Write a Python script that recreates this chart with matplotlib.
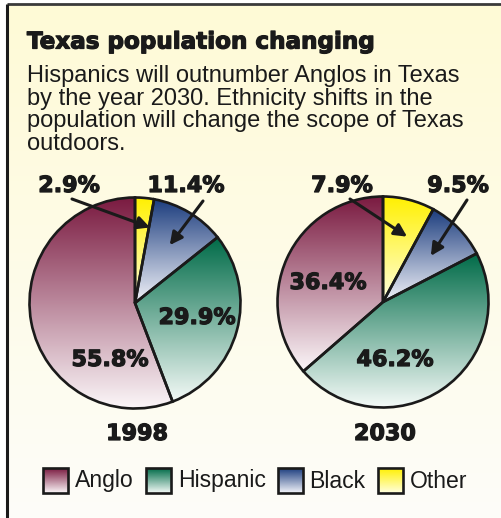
import numpy as np
import matplotlib
matplotlib.use("Agg")
import matplotlib.pyplot as plt
import matplotlib.patheffects as pe
from matplotlib.colors import to_rgba
from matplotlib.patches import Rectangle

# population shares, legend order
groups = ["Anglo", "Hispanic", "Black", "Other"]
years = ["1998", "2030"]
share_1998 = [55.8, 29.9, 11.4, 2.9]
share_2030 = [36.4, 46.2, 9.5, 7.9]

top_colors = ["#7a1a40", "#006b48", "#1c3d7e", "#fff000"]
bottom_colors = ["#fbf6f8", "#f4faf7", "#f3f4fa", "#ffffe0"]

title = "Texas population changing"
blurb = ("Hispanics will outnumber Anglos in Texas\n"
         "by the year 2030. Ethnicity shifts in the\n"
         "population will change the scope of Texas\n"
         "outdoors.")

W, H = 501, 518
INK = "#1a1a1a"
HEAVY = [pe.withStroke(linewidth=0.9, foreground=INK)]


def Y(y):
    # page coordinates measured from the top
    return H - y


def gradient(top, bottom, n=256):
    t = np.linspace(0, 1, n)[:, None]
    a = np.array(to_rgba(bottom))
    b = np.array(to_rgba(top))
    return (a + (b - a) * t)[:, None, :]


def fill_gradient(ax, patch, top, bottom, extent):
    im = ax.imshow(gradient(top, bottom), extent=extent, origin="lower",
                   aspect="auto", interpolation="bilinear", zorder=2)
    im.set_clip_path(patch)


fig = plt.figure(figsize=(W / 100, H / 100), dpi=100)
fig.patch.set_facecolor("white")
ax = fig.add_axes([0, 0, 1, 1])

# panel background and frame
ax.imshow(gradient("#fffad6", "#fdfdf9"), extent=(7, W, 0, Y(4)),
          origin="lower", aspect="auto", zorder=0)
ax.plot([7, W], [Y(4), Y(4)], color="#3a3a3a", lw=2.0, zorder=5,
        solid_capstyle="butt")
ax.plot([7, 7], [0, Y(4)], color=INK, lw=2.2, zorder=5, solid_capstyle="butt")

ax.text(27, Y(42), title, fontsize=16.6, fontweight="bold",
        family="DejaVu Sans", color=INK, va="center", ha="left",
        path_effects=HEAVY)
ax.text(27, Y(65), blurb, fontsize=17, family="Liberation Sans",
        color=INK, va="top", ha="left", linespacing=1.04)

centers = [(135, Y(303)), (383, Y(302))]
radius = 105.5

inner_labels = [[(110, 360), (197, 318)], [(328, 283), (395, 360)]]
top_labels = [[(69, 186), (186, 186)], [(342, 186), (458, 186)]]
arrow_tails = [[(72, 199), (203, 201)], [(350, 199), (467, 200)]]
arrow_depth = [[0.73, 0.64], [0.66, 0.63]]
arrow_twist = [[6.0, 0.0], [6.0, 0.5]]

for k, shares in enumerate([share_1998, share_2030]):
    cx, cy = centers[k]
    wedges, _ = ax.pie(shares, center=(cx, cy), radius=radius, startangle=90,
                       counterclock=True, frame=True,
                       wedgeprops=dict(facecolor="none", edgecolor=INK,
                                       linewidth=1.9, zorder=3))
    for w, top, bot in zip(wedges, top_colors, bottom_colors):
        ext = w.get_path().get_extents()
        fill_gradient(ax, w, top, bot, (ext.x0, ext.x1, ext.y0, ext.y1))

    # big shares sit inside their slices
    for i in range(2):
        x, y = inner_labels[k][i]
        ax.text(x, Y(y), f"{shares[i]:.1f}%", fontsize=16, fontweight="bold",
                family="DejaVu Sans", color=INK, ha="center", va="center",
                zorder=6, path_effects=HEAVY)

    # small shares are labelled above with arrows
    for j, i in enumerate([3, 2]):
        x, y = top_labels[k][j]
        ax.text(x, Y(y), f"{shares[i]:.1f}%", fontsize=16, fontweight="bold",
                family="DejaVu Sans", color=INK, ha="center", va="center",
                zorder=6, path_effects=HEAVY)
        w = wedges[i]
        mid = np.deg2rad((w.theta1 + w.theta2) / 2 - arrow_twist[k][j])
        r = radius * arrow_depth[k][j]
        tip = (cx + r * np.cos(mid), cy + r * np.sin(mid))
        tx, ty = arrow_tails[k][j]
        ax.annotate("", xy=tip, xytext=(tx, Y(ty)), zorder=7,
                    arrowprops=dict(arrowstyle="-|>,head_length=0.75,head_width=0.38",
                                    lw=2.2, color=INK, shrinkA=0, shrinkB=0))

    ax.text(cx + 2, Y(434), years[k], fontsize=16, fontweight="bold",
            family="DejaVu Sans", color=INK, ha="center", va="center",
            path_effects=HEAVY)

# legend row
fig.canvas.draw()
renderer = fig.canvas.get_renderer()
x = 43
box = 25
for name, top, bot in zip(groups, top_colors, bottom_colors):
    rect = Rectangle((x, Y(493)), box, box, facecolor="none", edgecolor=INK,
                     lw=1.9, zorder=3)
    ax.add_patch(rect)
    fill_gradient(ax, rect, top, bot, (x, x + box, Y(493), Y(468)))
    t = ax.text(x + box + 7, Y(481), name, fontsize=16.6, family="Liberation Sans",
                color=INK, ha="left", va="center")
    tw = t.get_window_extent(renderer).width
    x = x + box + 7 + tw + 12

ax.set_xlim(0, W)
ax.set_ylim(0, H)
ax.set_aspect("auto")
ax.axis("off")

fig.savefig("out.png", dpi=100)
